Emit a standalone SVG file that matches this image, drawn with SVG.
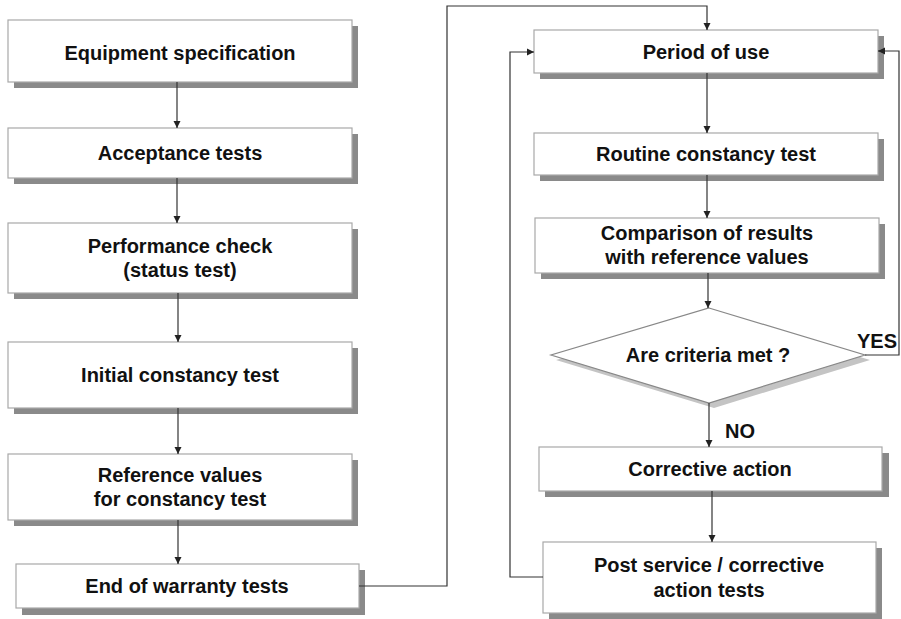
<svg xmlns="http://www.w3.org/2000/svg" width="901" height="619" viewBox="0 0 901 619">
<style>
.box{fill:#fff;stroke:#a8a8a8;stroke-width:1.2}
.sh{fill:#8a8a8a}
.t{font-family:"Liberation Sans",Arial,sans-serif;font-weight:bold;font-size:20px;fill:#111;text-anchor:middle}
.c{fill:none;stroke:#333;stroke-width:1.2}
</style>
<defs>
<marker id="ah" markerWidth="8" markerHeight="8" refX="7" refY="4" orient="auto" markerUnits="userSpaceOnUse">
<path d="M0,0.5 L7,4 L0,7.5 Z" fill="#222"/>
</marker>
</defs>
<rect width="901" height="619" fill="#fff"/>

<g id="n1"><rect class="sh" x="14" y="26" width="344" height="62"/><rect class="box" x="8" y="20" width="344" height="62"/><text class="t" x="180" y="60">Equipment specification</text></g>
<g id="n2"><rect class="sh" x="14" y="134" width="344" height="50"/><rect class="box" x="8" y="128" width="344" height="50"/><text class="t" x="180" y="160">Acceptance tests</text></g>
<g id="n3"><rect class="sh" x="14" y="229" width="344" height="70"/><rect class="box" x="8" y="223" width="344" height="70"/><text class="t" x="180" y="253">Performance check</text><text class="t" x="180" y="277">(status test)</text></g>
<g id="n4"><rect class="sh" x="14" y="348" width="344" height="66"/><rect class="box" x="8" y="342" width="344" height="66"/><text class="t" x="180" y="382">Initial constancy test</text></g>
<g id="n5"><rect class="sh" x="14" y="460" width="344" height="66"/><rect class="box" x="8" y="454" width="344" height="66"/><text class="t" x="180" y="482">Reference values</text><text class="t" x="180" y="506">for constancy test</text></g>
<g id="n6"><rect class="sh" x="22" y="570" width="343" height="45"/><rect class="box" x="16" y="564" width="343" height="44"/><text class="t" x="187" y="593">End of warranty tests</text></g>

<g id="n7"><rect class="sh" x="540" y="36" width="344" height="43"/><rect class="box" x="534" y="30" width="344" height="43"/><text class="t" x="706" y="59">Period of use</text></g>
<g id="n8"><rect class="sh" x="540" y="139" width="344" height="42"/><rect class="box" x="534" y="133" width="344" height="42"/><text class="t" x="706" y="161">Routine constancy test</text></g>
<g id="n9"><rect class="sh" x="541" y="224" width="344" height="55"/><rect class="box" x="535" y="218" width="344" height="55"/><text class="t" x="707" y="240">Comparison of results</text><text class="t" x="707" y="264">with reference values</text></g>
<g id="n10"><polygon points="714,313 870,360 714,408 556,360" fill="#c4c4c4"/><polygon points="709,308 865,355 709,403 551,355" fill="#fff" stroke="#888" stroke-width="1.2"/><text class="t" x="708" y="362">Are criteria met ?</text></g>
<g id="n11"><rect class="sh" x="545" y="453" width="344" height="44"/><rect class="box" x="539" y="447" width="343" height="44"/><text class="t" x="710" y="476">Corrective action</text></g>
<g id="n12"><rect class="sh" x="549" y="548" width="333" height="71"/><rect class="box" x="543" y="542" width="333" height="71"/><text class="t" x="709" y="572">Post service / corrective</text><text class="t" x="709" y="597">action tests</text></g>

<g id="connectors">
<line class="c" x1="177" y1="82" x2="177" y2="128" marker-end="url(#ah)"/>
<line class="c" x1="177" y1="178" x2="177" y2="223" marker-end="url(#ah)"/>
<line class="c" x1="178" y1="293" x2="178" y2="342" marker-end="url(#ah)"/>
<line class="c" x1="178" y1="408" x2="178" y2="454" marker-end="url(#ah)"/>
<line class="c" x1="178" y1="520" x2="178" y2="564" marker-end="url(#ah)"/>
<polyline class="c" points="359,586 447,586 447,6 707,6 707,30" marker-end="url(#ah)"/>
<line class="c" x1="707" y1="73" x2="707" y2="133" marker-end="url(#ah)"/>
<line class="c" x1="707" y1="175" x2="707" y2="218" marker-end="url(#ah)"/>
<line class="c" x1="708" y1="273" x2="708" y2="308" marker-end="url(#ah)"/>
<line class="c" x1="709" y1="403" x2="709" y2="447" marker-end="url(#ah)"/>
<line class="c" x1="712" y1="491" x2="712" y2="542" marker-end="url(#ah)"/>
<polyline class="c" points="543,577 510,577 510,52 534,52" marker-end="url(#ah)"/>
<polyline class="c" points="865,355 899,355 899,51 878,51" marker-end="url(#ah)"/>
<text class="t" x="877" y="348">YES</text>
<text class="t" x="740" y="438">NO</text>
</g>
</svg>
